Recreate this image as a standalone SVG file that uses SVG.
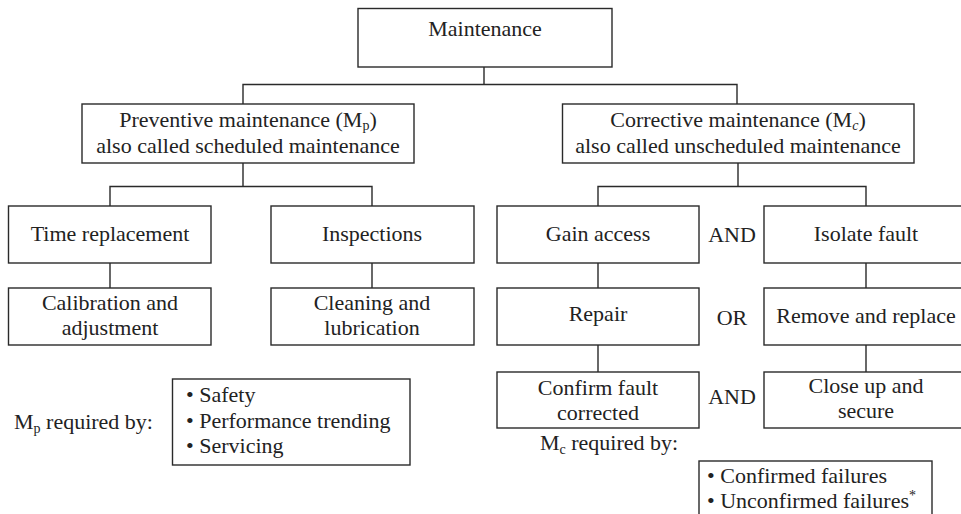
<svg xmlns="http://www.w3.org/2000/svg" width="961" height="514" viewBox="0 0 961 514" font-family="Liberation Serif, Tinos, Times New Roman, DejaVu Serif, serif">
  <style>
    .box { fill: #ffffff; stroke: #2a2a2a; stroke-width: 1.4; }
    .wire { fill: none; stroke: #2a2a2a; stroke-width: 1.4; }
    text { font-size: 22px; fill: #222222; }
    .c { text-anchor: middle; }
    .sub { font-size: 14px; }
  </style>
  <rect width="961" height="514" fill="#ffffff"/>

  <!-- connectors -->
  <g id="connectors">
    <path class="wire" d="M484 67 V84.5 M243 104 V84.5 H737 V104"/>
    <path class="wire" d="M243 163 V186.5 M110 206 V186.5 H372 V206"/>
    <path class="wire" d="M738 163 V186.5 M598 206 V186.5 H866 V206"/>
    <path class="wire" d="M110 263 V288 M372 263 V288"/>
    <path class="wire" d="M598 263 V288 M598 345 V372"/>
    <path class="wire" d="M866 263 V288 M866 345 V372"/>
  </g>

  <g id="maintenance">
    <rect class="box" x="358" y="8.5" width="254" height="58.5"/>
    <text class="c" x="485" y="36">Maintenance</text>
  </g>

  <g id="preventive">
    <rect class="box" x="82" y="104" width="332" height="59"/>
    <text class="c" x="248" y="127">Preventive maintenance (M<tspan class="sub" dy="3">p</tspan><tspan dy="-3">)</tspan></text>
    <text class="c" x="248" y="153">also called scheduled maintenance</text>
  </g>

  <g id="corrective">
    <rect class="box" x="562.5" y="104" width="351.5" height="59"/>
    <text class="c" x="738" y="127">Corrective maintenance (M<tspan class="sub" dy="3" font-style="italic">c</tspan><tspan dy="-3">)</tspan></text>
    <text class="c" x="738" y="153">also called unscheduled maintenance</text>
  </g>

  <g id="time-replacement">
    <rect class="box" x="8.5" y="206" width="202.5" height="57"/>
    <text class="c" x="110" y="241">Time replacement</text>
  </g>

  <g id="inspections">
    <rect class="box" x="271" y="206" width="203" height="57"/>
    <text class="c" x="372" y="241">Inspections</text>
  </g>

  <g id="calibration">
    <rect class="box" x="8.5" y="288" width="202.5" height="57"/>
    <text class="c" x="110" y="310">Calibration and</text>
    <text class="c" x="110" y="335">adjustment</text>
  </g>

  <g id="cleaning">
    <rect class="box" x="271" y="288" width="203" height="57"/>
    <text class="c" x="372" y="310">Cleaning and</text>
    <text class="c" x="372" y="335">lubrication</text>
  </g>

  <g id="gain-access">
    <rect class="box" x="497" y="206" width="202" height="57"/>
    <text class="c" x="598" y="241">Gain access</text>
  </g>

  <g id="and-1">
    <text class="c" x="732" y="242">AND</text>
  </g>

  <g id="isolate-fault">
    <rect class="box" x="764" y="206" width="204" height="57"/>
    <text class="c" x="866" y="241">Isolate fault</text>
  </g>

  <g id="repair">
    <rect class="box" x="497" y="288" width="202" height="57"/>
    <text class="c" x="598" y="321">Repair</text>
  </g>

  <g id="or">
    <text class="c" x="732" y="325">OR</text>
  </g>

  <g id="remove-replace">
    <rect class="box" x="764" y="288" width="204" height="57"/>
    <text class="c" x="866" y="323">Remove and replace</text>
  </g>

  <g id="confirm-fault">
    <rect class="box" x="497" y="372" width="202" height="56"/>
    <text class="c" x="598" y="395">Confirm fault</text>
    <text class="c" x="598" y="420">corrected</text>
  </g>

  <g id="and-2">
    <text class="c" x="732" y="404">AND</text>
  </g>

  <g id="close-up">
    <rect class="box" x="764" y="372" width="204" height="56"/>
    <text class="c" x="866" y="393">Close up and</text>
    <text class="c" x="866" y="418">secure</text>
  </g>

  <g id="mp-required">
    <text x="14" y="429">M<tspan class="sub" dy="4">p</tspan><tspan dy="-4"> required by:</tspan></text>
    <rect class="box" x="172.5" y="379" width="237.5" height="86"/>
    <text x="186" y="402">• Safety</text>
    <text x="186" y="428">• Performance trending</text>
    <text x="186" y="453">• Servicing</text>
  </g>

  <g id="mc-required">
    <text x="540" y="450">M<tspan class="sub" dy="4">c</tspan><tspan dy="-4"> required by:</tspan></text>
    <rect class="box" x="699" y="461" width="233" height="60"/>
    <text x="707" y="483">• Confirmed failures</text>
    <text x="707" y="508">• Unconfirmed failures<tspan font-size="14" dy="-8">*</tspan></text>
  </g>
</svg>
